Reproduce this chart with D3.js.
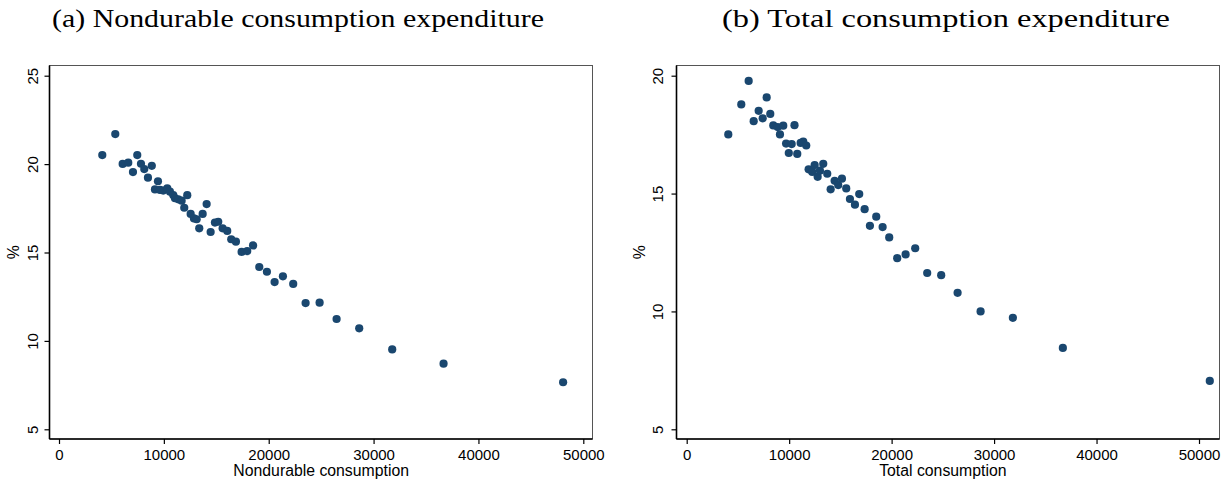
<!DOCTYPE html>
<html>
<head>
<meta charset="utf-8">
<script src="https://cdn.jsdelivr.net/npm/d3@7"></script>
<style>
  html, body { margin: 0; padding: 0; background: #fff; }
  svg { display: block; }
  .tick text { font-family: "Liberation Sans", Arial, Helvetica, sans-serif; font-size: 15px; fill: #000; }
  .axis-title { font-family: "Liberation Sans", Arial, Helvetica, sans-serif; font-size: 15.8px; fill: #000; }
  .panel-title { font-family: "Palatino Linotype", "Book Antiqua", Palatino, "Liberation Serif", serif; font-size: 25px; fill: #000; }
</style>
</head>
<body>
<svg id="chart" width="1231" height="485"></svg>
<script>
// Panel (a): nondurable consumption vs. expenditure share (%)
const nondurableX = [4128, 5367, 6072, 6606, 7054, 7464, 7817, 8132, 8484, 8850,
  9151, 9438, 9628, 9943, 10324, 10582, 10896, 11058, 11373, 11697,
  11945, 12231, 12555, 12870, 13127, 13375, 13699, 14080, 14461, 14871,
  15186, 15605, 16044, 16425, 16873, 17417, 17950, 18508, 19100, 19828,
  20562, 21354, 22335, 23518, 24852, 26473, 28630, 31776, 36673, 48074];
const nondurableShare = [20.51, 21.70, 20.01, 20.08, 19.55, 20.51, 20.02, 19.72, 19.23, 19.90,
  18.57, 19.03, 18.54, 18.50, 18.63, 18.44, 18.25, 18.07, 18.01, 17.93,
  17.53, 18.24, 17.18, 16.93, 16.88, 16.37, 17.18, 17.74, 16.16, 16.69,
  16.74, 16.37, 16.22, 15.75, 15.61, 15.03, 15.08, 15.40, 14.18, 13.91,
  13.33, 13.65, 13.22, 12.14, 12.16, 11.24, 10.71, 9.52, 8.71, 7.66];

// Panel (b): total consumption vs. expenditure share (%)
const totalX = [4059, 5327, 6049, 6537, 7024, 7415, 7805, 8156, 8449, 8878,
  9102, 9424, 9700, 9965, 10244, 10520, 10790, 11122, 11376, 11668,
  11900, 12254, 12488, 12780, 13005, 13327, 13717, 14049, 14439, 14790,
  15151, 15571, 15932, 16420, 16839, 17366, 17883, 18498, 19122, 19766,
  20546, 21366, 22302, 23473, 24839, 26439, 28683, 31834, 36712, 51054];
const totalShare = [17.51, 18.78, 19.78, 18.07, 18.51, 18.19, 19.08, 18.38, 17.89, 17.82,
  17.51, 17.88, 17.12, 16.72, 17.10, 17.90, 16.68, 17.15, 17.20, 17.04,
  16.03, 15.92, 16.21, 15.71, 15.97, 16.26, 15.84, 15.18, 15.54, 15.36,
  15.63, 15.22, 14.77, 14.53, 14.98, 14.34, 13.63, 14.02, 13.58, 13.14,
  12.26, 12.42, 12.68, 11.63, 11.54, 10.79, 10.00, 9.73, 8.45, 7.05];

const xTicks = [0, 10000, 20000, 30000, 40000, 50000];
const yTicksA = [5, 10, 15, 20, 25];
const yTicksB = [5, 10, 15, 20];

const titles = ["(a) Nondurable consumption expenditure", "(b) Total consumption expenditure"];
const xTitles = ["Nondurable consumption", "Total consumption"];
const yTitle = "%";

const dotColor = "#1a476f";
const svg = d3.select("#chart");

function drawPanel(cfg) {
  const g = svg.append("g");
  const f = cfg.frame;

  const x = d3.scaleLinear().domain([0, 50000]).range(cfg.xRange);
  const y = d3.scaleLinear().domain([5, cfg.yTicks[cfg.yTicks.length - 1]]).range(cfg.yRange);

  // plot region outline (top/right lighter)
  g.append("rect")
    .attr("x", f.left).attr("y", f.top)
    .attr("width", f.right - f.left).attr("height", f.bottom - f.top)
    .attr("fill", "none").attr("stroke", "#555").attr("stroke-width", 1);

  // x axis
  const xAxis = g.append("g")
    .attr("transform", `translate(0,${f.bottom})`)
    .call(d3.axisBottom(x).tickValues(cfg.xTicks).tickFormat(d3.format("d")).tickSize(5).tickPadding(5).tickSizeOuter(0));
  xAxis.select(".domain").remove();
  xAxis.selectAll(".tick line").attr("stroke", "#000").attr("stroke-width", 1.2);
  g.append("line")
    .attr("x1", f.left).attr("x2", f.right)
    .attr("y1", f.bottom).attr("y2", f.bottom)
    .attr("stroke", "#000").attr("stroke-width", 1.6);

  // y axis with labels rotated to read upward
  const yAxis = g.append("g")
    .attr("transform", `translate(${f.left},0)`)
    .call(d3.axisLeft(y).tickValues(cfg.yTicks).tickFormat(d3.format("d")).tickSize(5).tickSizeOuter(0));
  yAxis.select(".domain").remove();
  yAxis.selectAll(".tick line").attr("stroke", "#000").attr("stroke-width", 1.2);
  yAxis.selectAll(".tick text")
    .attr("transform", "rotate(-90)")
    .attr("x", 0).attr("y", cfg.yLabelOffset).attr("dy", 0)
    .attr("text-anchor", "middle");
  g.append("line")
    .attr("x1", f.left).attr("x2", f.left)
    .attr("y1", f.top).attr("y2", f.bottom)
    .attr("stroke", "#000").attr("stroke-width", 1.6);

  // markers
  g.append("g").selectAll("circle")
    .data(cfg.xs.map((v, i) => [v, cfg.ys[i]]))
    .join("circle")
    .attr("cx", d => x(d[0]))
    .attr("cy", d => y(d[1]))
    .attr("r", 4.1)
    .attr("fill", dotColor);

  // axis titles
  g.append("text").attr("class", "axis-title")
    .attr("x", (cfg.xRange[0] + cfg.xRange[1]) / 2 + cfg.xTitleShift).attr("y", 476)
    .attr("text-anchor", "middle").text(cfg.xTitle);
  g.append("text").attr("class", "axis-title")
    .attr("transform", `translate(${cfg.yTitleX},${(f.top + f.bottom) / 2}) rotate(-90)`)
    .attr("text-anchor", "middle").text(yTitle);

  // panel heading
  g.append("text").attr("class", "panel-title")
    .attr("x", cfg.titleX).attr("y", 27)
    .attr("textLength", cfg.titleWidth).attr("lengthAdjust", "spacingAndGlyphs")
    .text(cfg.title);
}

drawPanel({
  frame: { left: 49.5, right: 592.5, top: 65.5, bottom: 439 },
  xRange: [59, 583.3], yRange: [429.3, 75.7],
  xTicks: xTicks, yTicks: yTicksA,
  xs: nondurableX, ys: nondurableShare,
  yLabelOffset: -12, xTitle: xTitles[0], xTitleShift: 0, yTitleX: 19,
  title: titles[0], titleX: 52, titleWidth: 492
});

drawPanel({
  frame: { left: 676.5, right: 1219.5, top: 65.5, bottom: 439 },
  xRange: [686.7, 1199], yRange: [429.3, 75.7],
  xTicks: xTicks, yTicks: yTicksB,
  xs: totalX, ys: totalShare,
  yLabelOffset: -13.5, xTitle: xTitles[1], xTitleShift: 0, yTitleX: 645,
  title: titles[1], titleX: 722, titleWidth: 448
});
</script>
</body>
</html>
